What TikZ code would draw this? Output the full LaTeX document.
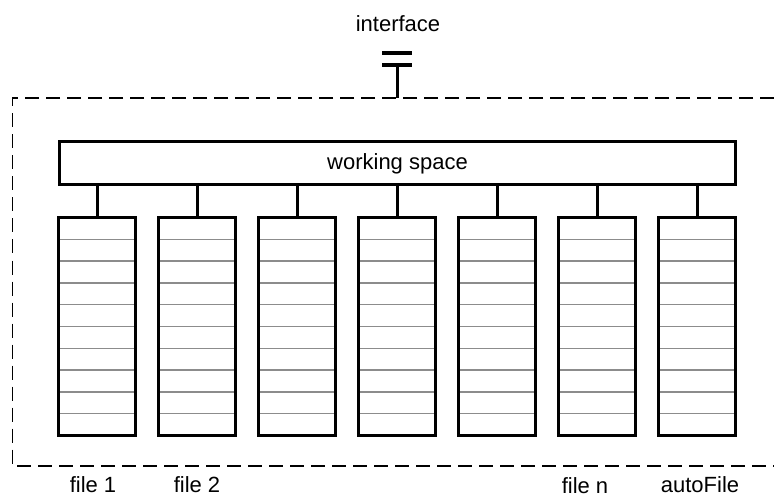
\documentclass[tikz,border=0pt]{standalone}
\usepackage{fontspec}
\setmainfont{Liberation Sans}
\usetikzlibrary{positioning}

\tikzset{
  wsbox/.style={draw, line width=3pt, outer sep=0pt, inner sep=0pt,
    minimum width=676pt, minimum height=43pt},
  filebox/.style={draw, line width=3pt, outer sep=0pt, inner sep=0pt,
    minimum width=77pt, minimum height=218pt},
  slot/.style={draw=black!45, line width=1.5pt},
  link/.style={line width=3pt},
  framebox/.style={line width=1.5pt, dash pattern=on 14pt off 7pt},
  caption/.style={anchor=base, inner sep=0pt},
}

\begin{document}
\begin{tikzpicture}[x=1pt, y=-1pt, font=\fontsize{22}{26}\selectfont]
            \useasboundingbox (0,0) rectangle (774,497);

            % outer frame
            \draw[framebox] (774,98) -| (12.5,466) -- (774,466);

            % interface
            \node[caption] (iface) at (398,32) {interface};
            \coordinate (plug) at (397,65);
            \coordinate (frametop) at (397,98);
            \draw[line width=4pt] (382,53) -- (412,53);
            \draw[line width=4pt] (382,65) -- (412,65);
            \draw[link] (plug) -- (frametop);

            % working space
            \node[wsbox] (ws) at (397.5,163.5) {working space};

            % files
            \foreach \i in {1,...,7} {
              \pgfmathsetmacro{\fx}{97+100*(\i-1)}
              \foreach \j in {1,...,9}
                \draw[slot] ({\fx-38.5},{217.5+21.8*\j}) -- ({\fx+38.5},{217.5+21.8*\j});
              \node[filebox] (f\i) at (\fx,326.5) {};
              \draw[link] (f\i.north) -- (f\i.north |- ws.south);
            }

            \node[caption] (name1) at (93,492.5) {file 1};
            \node[caption] (name2) at (197,492.5) {file 2};
            \node[caption] (namen) at (585,493.5) {file n};
            \node[caption] (nameauto) at (700,492.5) {autoFile};

        \end{tikzpicture}
\end{document}
